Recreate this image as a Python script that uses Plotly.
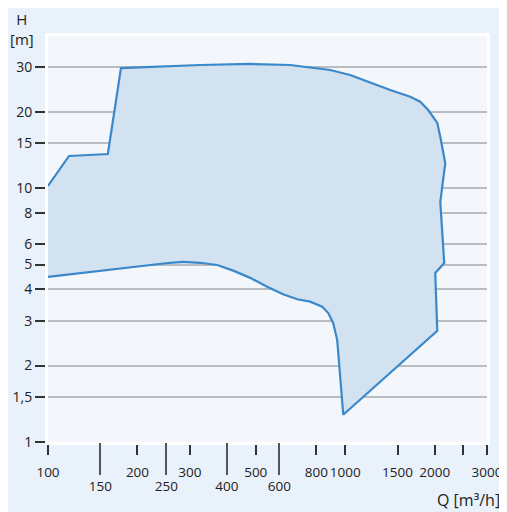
import plotly.graph_objects as go

# Outline of the operating range (Q in m3/h, H in m), traced clockwise
q_vals = [100, 117.7, 159, 176, 325, 479, 653, 805, 890, 1039, 1150, 1417, 1655, 1788,
          1903, 1979, 2041, 2089, 2133, 2171, 2089, 2154, 2009, 2041,
          985, 969, 955, 940, 911, 877, 837, 762, 690, 618, 546, 479, 420, 371,
          325, 285, 257.5, 220.5, 100]
h_vals = [10.2, 13.38, 13.62, 29.7, 30.53, 30.82, 30.53, 29.72, 29.18, 27.9, 26.66, 24.34, 22.9, 21.89,
          20.3, 19.1, 18.05, 15.94, 14.13, 12.52, 8.82, 5.07, 4.63, 2.74,
          1.28, 1.60, 2.05, 2.52, 2.94, 3.22, 3.41, 3.57, 3.65, 3.82, 4.09, 4.43, 4.73, 4.98,
          5.08, 5.12, 5.08, 4.98, 4.47]

y_ticks = [1, 1.5, 2, 3, 4, 5, 6, 8, 10, 15, 20, 30]
y_labels = ["1", "1,5", "2", "3", "4", "5", "6", "8", "10", "15", "20", "30"]
x_short_ticks = [100, 200, 300, 500, 800, 1000, 1500, 2000, 2500, 3000]
x_short_labels = ["100", "200", "300", "500", "800", "1000", "1500", "2000", "", "3000"]
x_long_ticks = [150, 250, 400, 600]
x_long_labels = ["150", "250", "400", "600"]

FONT = "Open Sans"
LINE = "#3a88c9"
FILL = "#d3e2f1"

fig = go.Figure()
fig.add_trace(go.Scatter(x=q_vals + [q_vals[0]], y=h_vals + [h_vals[0]], mode="lines",
                         fill="toself", fillcolor=FILL, line=dict(width=0),
                         hoverinfo="skip", showlegend=False, xaxis="x", yaxis="y"))
fig.add_trace(go.Scatter(x=q_vals, y=h_vals, mode="lines",
                         line=dict(color=LINE, width=2.2),
                         showlegend=False, xaxis="x2", yaxis="y"))

xr = [2, 3.4771]
# page body has an 8px margin, so the figure is 8px smaller and margins compensate
fig.update_layout(
    width=499, height=504,
    margin=dict(l=40, r=20, t=28, b=70),
    paper_bgcolor="#e9f1fa",
    plot_bgcolor="#f3f7fc",
    font=dict(family=FONT, size=13.5, color="#222"),
    xaxis=dict(type="log", range=xr, tickvals=x_short_ticks, ticktext=x_short_labels,
               ticks="outside", ticklen=10, tickwidth=1.5, tickcolor="#333", tickangle=0,
               showgrid=False, zeroline=False, showline=True, linecolor="white",
               linewidth=3, mirror=True, ticklabelstandoff=6, automargin=False),
    xaxis2=dict(type="log", range=xr, overlaying="x", anchor="y", side="bottom", matches="x",
                tickvals=x_long_ticks, ticktext=x_long_labels, tickangle=0,
                ticks="outside", ticklen=32, tickwidth=1.5, tickcolor="#555",
                showgrid=False, zeroline=False, showline=False, ticklabelstandoff=0,
                automargin=False),
    yaxis=dict(type="log", range=[0, 1.599], tickvals=y_ticks, ticktext=y_labels,
               ticks="outside", ticklen=10, tickwidth=1.5, tickcolor="#333",
               showgrid=True, gridcolor="#b9bdc1", gridwidth=1.5, zeroline=False,
               showline=True, linecolor="white", linewidth=3, mirror=True, automargin=False,
               tickfont=dict(size=14)),
    annotations=[
        dict(text="H<br>[m]", xref="paper", yref="paper", x=-0.0592, y=1.0166, xanchor="center",
             yanchor="middle", showarrow=False, font=dict(size=15, family=FONT)),
        dict(text="Q [m³/h]", xref="paper", yref="paper", x=1.034, y=-0.1429, xanchor="right",
             yanchor="middle", showarrow=False, font=dict(size=16, family=FONT)),
    ],
)

fig.write_html("out.html")
